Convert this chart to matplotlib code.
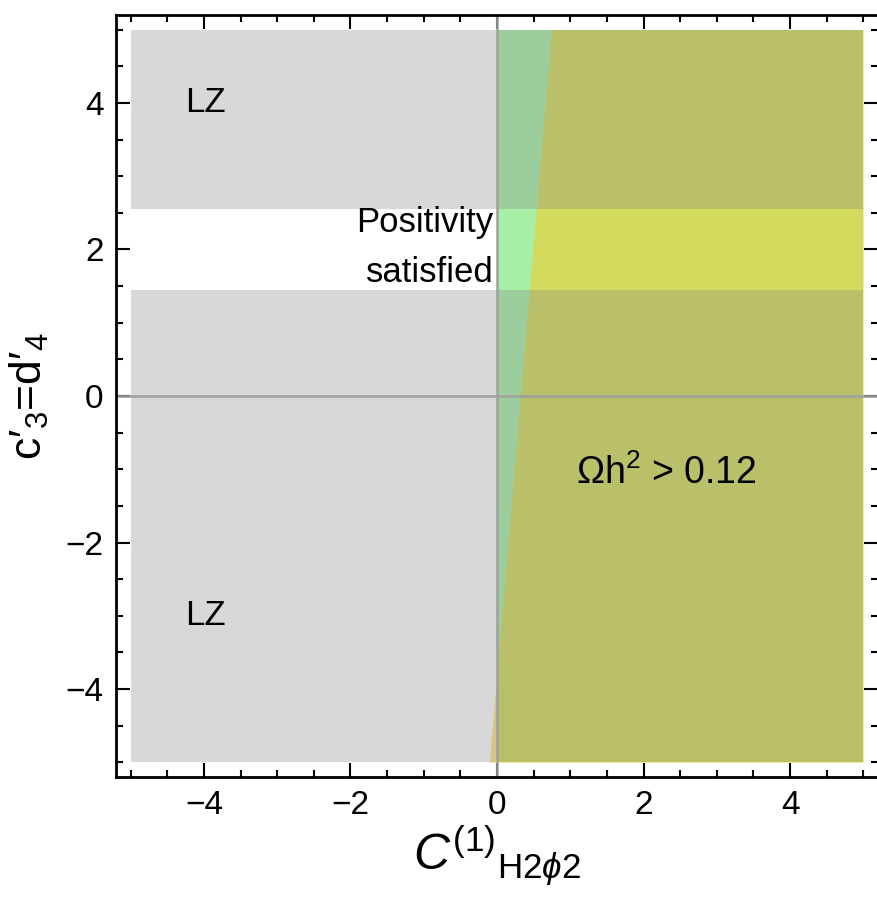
import matplotlib
matplotlib.use("Agg")
import matplotlib.pyplot as plt
from matplotlib.ticker import MultipleLocator

plt.rcParams['font.family'] = ['Liberation Sans', 'DejaVu Sans']
plt.rcParams['mathtext.fontset'] = 'custom'
plt.rcParams['mathtext.rm'] = 'Liberation Sans'
plt.rcParams['mathtext.it'] = 'Liberation Sans:italic'

# plot range of the scan
x_range = [-5, 5]
y_range = [-5, 5]

# LZ excluded bands in c'_3 (outside the window [lz_low, lz_high])
lz_low = 1.45
lz_high = 2.55

# positivity: C_H2phi2 > 0
positivity_x = 0.0

# relic density boundary Omega h^2 = 0.12 (x at y = -5 and y = 5)
relic_y = [-5, 5]
relic_x = [-0.105, 0.745]

# region labels
labels = ["LZ", "LZ", "Positivity", "satisfied", "Ωh$^2$ > 0.12"]
label_x = [-3.98, -3.98, -0.05, -0.05, 2.31]
label_y = [4.0, -3.0, 2.37, 1.68, -1.05]
label_size = [25, 25, 25, 25, 27]

fig = plt.figure(figsize=(8.77, 8.98), dpi=100)
ax = fig.add_axes([116 / 877, 121 / 898, 762 / 877, 762 / 898])

# positivity region (green)
ax.fill_between([positivity_x, x_range[1]], y_range[0], y_range[1],
                color='#50e050', alpha=0.5, lw=0)

# relic density over-abundant region (orange)
ax.fill_betweenx(relic_y, relic_x, x_range[1], color='#fdc815', alpha=0.5, lw=0)

# LZ exclusion (gray, on top)
ax.fill_between(x_range, lz_high, y_range[1], color='#848484', alpha=0.31, lw=0)
ax.fill_between(x_range, y_range[0], lz_low, color='#848484', alpha=0.31, lw=0)

# axes lines through the origin
ax.axhline(0, color='#a0a0a0', lw=2, alpha=0.9)
ax.axvline(0, color='#a0a0a0', lw=2, alpha=0.9)

for i, t in enumerate(labels):
    ha = 'right' if i in (2, 3) else 'center'
    ax.text(label_x[i], label_y[i], t, ha=ha, va='center', fontsize=label_size[i])

ax.set_xlim(-5.2, 5.2)
ax.set_ylim(-5.2, 5.2)
ax.xaxis.set_major_locator(MultipleLocator(2))
ax.xaxis.set_minor_locator(MultipleLocator(0.5))
ax.yaxis.set_major_locator(MultipleLocator(2))
ax.yaxis.set_minor_locator(MultipleLocator(0.5))
ax.tick_params(which='both', direction='in', top=True, right=True, width=1.5,
               labelsize=24, pad=9)
ax.tick_params(which='major', length=10)
ax.tick_params(which='minor', length=5)
for s in ax.spines.values():
    s.set_linewidth(2)

ax.set_xlabel(r"${C^{(1)}}_{\mathregular{H2}\phi\mathregular{2}}$", fontsize=36, labelpad=2)
ax.set_ylabel("c′$_3$=d′$_4$", fontsize=32, labelpad=10)

fig.savefig("out.png", dpi=100)
